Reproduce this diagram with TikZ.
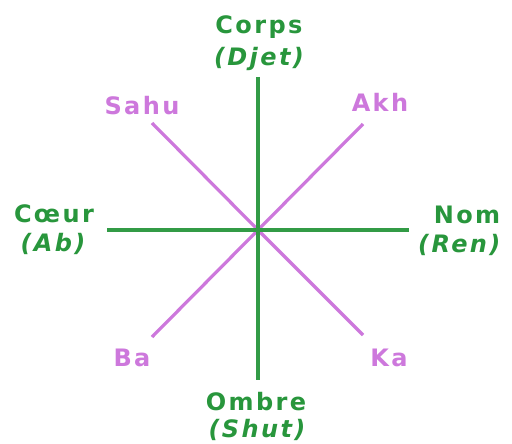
\documentclass[tikz,border=0pt]{standalone}
\usepackage{fontspec}
\setmainfont{DejaVu Sans}
\definecolor{eg}{RGB}{40,150,60}
\definecolor{egl}{RGB}{50,155,70}
\definecolor{ep}{RGB}{205,120,220}
\begin{document}
\begin{tikzpicture}[x=1pt,y=-1pt,
  gline/.style={draw=egl,line width=3.2pt},
  pline/.style={draw=ep,line width=3.2pt},
  lab/.style={font=\fontsize{24}{28}\selectfont\bfseries\addfontfeature{LetterSpace=10},inner sep=0pt,anchor=base},
  glab/.style={lab,text=eg},
  plab/.style={lab,text=ep}]
\useasboundingbox[fill=white] (0,0) rectangle (512,444);
\coordinate (c) at (258,230);
\coordinate (t) at (258,77);
\coordinate (b) at (258,380);
\coordinate (l) at (107,230);
\coordinate (r) at (409,230);
\coordinate (ul) at (152,123);
\coordinate (ur) at (363,124);
\coordinate (ll) at (152,337);
\coordinate (lr) at (363,335);
\draw[pline] (ul) -- (c) -- (lr);
\draw[pline] (ur) -- (c) -- (ll);
\draw[gline] (t) -- (b);
\draw[gline] (l) -- (r);
\node[glab] (corps) at (259,34) {Corps};
\node[glab] (djet) at (259,66) {\itshape (Djet)};
\node[plab] (sahu) at (142,114) {Sahu};
\node[plab] (akh) at (380,112) {Akh};
\node[glab] (coeur) at (54,222) {Cœur};
\node[glab] (ab) at (53,251) {\itshape (Ab)};
\node[glab] (nom) at (467,223) {Nom};
\node[glab,anchor=base west] (ren) at (418,252) {\itshape (Ren)};
\node[plab] (ba) at (132,366) {Ba};
\node[plab] (ka) at (389,366) {Ka};
\node[glab] (ombre) at (256,410) {Ombre};
\node[glab] (shut) at (257,437) {\itshape (Shut)};
\end{tikzpicture}
\end{document}
